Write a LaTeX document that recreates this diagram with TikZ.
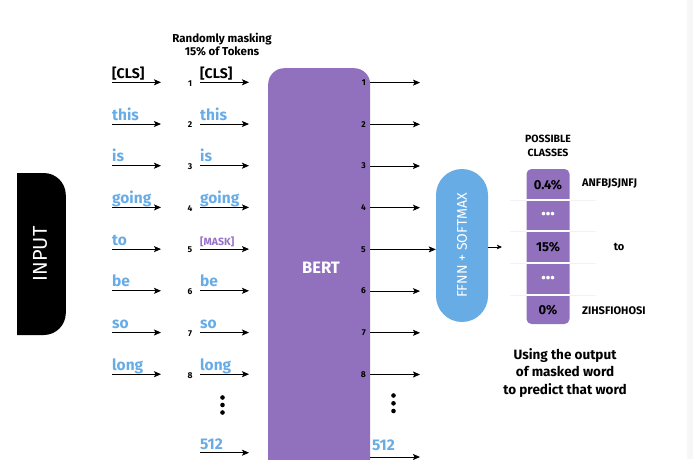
\documentclass[tikz,border=0pt]{standalone}
\usepackage{fontspec}
\setmainfont{Fira Sans}
\usepackage{xcolor}
\usetikzlibrary{arrows.meta,positioning,calc}
\definecolor{bertpurple}{RGB}{145,112,190}
\definecolor{wordblue}{RGB}{104,172,230}
\definecolor{maskpurple}{RGB}{150,112,200}

\begin{document}
\begin{tikzpicture}[x=1pt, y=-1pt,
  every node/.style={inner sep=0pt, font=\bfseries},
  tokblue/.style={anchor=base west, text=wordblue, font=\fontsize{15.5}{15.5}\selectfont\bfseries},
  tokblack/.style={tokblue, text=black, font=\fontsize{14}{14}\selectfont\bfseries},
  tokmask/.style={tokblue, text=maskpurple, font=\fontsize{10.5}{10.5}\selectfont\bfseries},
  idx/.style={font=\fontsize{8.5}{8.5}\selectfont\bfseries},
  arr/.style={-{Stealth[length=7pt,width=6pt,inset=1.5pt]}, line width=0.8pt},
  cell/.style={font=\fontsize{13}{13}\selectfont\bfseries},
  tag/.style={font=\fontsize{11}{11}\selectfont\bfseries}]
  \useasboundingbox (0,0) rectangle (693,459);
  \fill[black!3] (687,0) rectangle (693,459);

  % INPUT tab (square on the left)
  \begin{scope}
    \clip (17,160) rectangle (90,350);
    \node[fill=black, rounded corners=22pt, minimum width=75pt, minimum height=162pt,
          anchor=east] (inbox) at (66,254) {};
  \end{scope}
  \node[rotate=90, text=white, font=\fontsize{20}{20}\selectfont\mdseries] (inlbl) at (40,254) {INPUT};

  % input tokens
  \foreach \i/\w/\s in {1/{[CLS]}/tokblack, 2/this/tokblue, 3/is/tokblue, 4/going/tokblue,
                        5/to/tokblue, 6/be/tokblue, 7/so/tokblue, 8/long/tokblue} {
    \pgfmathsetmacro\y{82.3+41.7*(\i-1)}
    \coordinate (inA\i) at (112,\y);
    \coordinate (inB\i) at (161,\y);
    \node[\s] (in\i) at (112,\y-4) {\w};
    \draw[arr] (inA\i) -- (inB\i);
  }

  % masked tokens
  \node[align=center, font=\fontsize{11.5}{13}\selectfont\bfseries] (masktitle) at (222,44.5)
        {Randomly masking\\15\% of Tokens};
  \foreach \i/\w/\s in {1/{[CLS]}/tokblack, 2/this/tokblue, 3/is/tokblue, 4/going/tokblue,
                        5/{[MASK]}/tokmask, 6/be/tokblue, 7/so/tokblue, 8/long/tokblue} {
    \pgfmathsetmacro\y{82.3+41.7*(\i-1)}
    \coordinate (mkA\i) at (200,\y);
    \coordinate (mkB\i) at (249,\y);
    \node[\s] (mk\i) at (200,\y-4) {\w};
    \node[idx] (mkn\i) at (190,\y+1) {\i};
    \draw[arr] (mkA\i) -- (mkB\i);
  }
  \foreach \d in {397.5,405,412.5} \fill (222.5,\d) circle (2.3);
  \coordinate (mkA9) at (200,452.7);
  \coordinate (mkB9) at (249,452.7);
  \node[tokblue] (mk9) at (200,449.5) {512};
  \draw[arr] (mkA9) -- (mkB9);

  % BERT
  \node[fill=bertpurple, rounded corners=16pt, minimum width=102pt, minimum height=420pt,
        anchor=north west] (bert) at (268,68) {};
  \node[text=white, font=\fontsize{16.5}{16.5}\selectfont\bfseries] (bertlbl) at (321,268) {BERT};

  % FFNN + SOFTMAX
  \node[fill=wordblue, rounded corners=26pt, minimum width=52pt, minimum height=153pt]
        (ffnn) at (462,245.5) {};
  \node[rotate=90, text=white, font=\fontsize{14}{14}\selectfont\mdseries] (ffnnlbl) at (ffnn) {FFNN + SOFTMAX};

  % BERT outputs
  \foreach \i in {1,...,8} {
    \pgfmathsetmacro\y{82.6+41.7*(\i-1)}
    \coordinate (out\i) at (370,\y);
    \coordinate (outE\i) at (420,\y);
    \node[idx, anchor=east] (outn\i) at (366,\y) {\i};
  }
  \foreach \i in {1,2,3,4,6,7,8} \draw[arr] (out\i) -- (outE\i);
  \draw[arr] (out5) -- (out5 -| ffnn.west);
  \foreach \d in {395.5,403.3,411} \fill (393.5,\d) circle (2.3);
  \coordinate (out9) at (370,457);
  \coordinate (outE9) at (420,457);
  \node[tokblue] (outn9) at (372,450) {512};
  \draw[arr] (out9) -- (outE9);

  % possible classes
  \node[align=center, font=\fontsize{10.5}{14}\selectfont\bfseries] (clstitle) at (548,145.5)
        {POSSIBLE\\CLASSES};
  \foreach \s in {200,231,263,295} \draw[black!5, line width=0.6pt] (510,\s) -- (596,\s);
  \node[fill=bertpurple, rounded corners=5pt, minimum width=43pt, minimum height=155pt]
        (cls) at (548,246.5) {};
  \foreach \s in {200,231,263,295} \draw[white, line width=1.6pt] (cls.west |- 0,\s) -- (cls.east |- 0,\s);
  \node[cell] (p1) at (548,185) {0.4\%};
  \node[cell, text=white] (p2) at (548,215.5) {•••};
  \node[cell] (p3) at (548,247.5) {15\%};
  \node[cell, text=white] (p4) at (548,279) {•••};
  \node[cell] (p5) at (548,310) {0\%};
  \coordinate (clsin) at (502,247);
  \draw[-{Stealth[length=5pt,width=4.5pt,inset=1pt]}, line width=0.7pt] (ffnn.east |- clsin) -- (clsin);

  \node[tag, anchor=west] (c1) at (582,184) {ANFBJSJNFJ};
  \node[tag] (c3) at (619,247) {to};
  \node[tag, anchor=west] (c5) at (582,311) {ZIHSFIOHOSI};

  % note
  \node[align=center, font=\fontsize{13.5}{17.5}\selectfont\bfseries] (note) at (565,373)
        {Using the output\\of masked word\\to predict that word};
\end{tikzpicture}
\end{document}
